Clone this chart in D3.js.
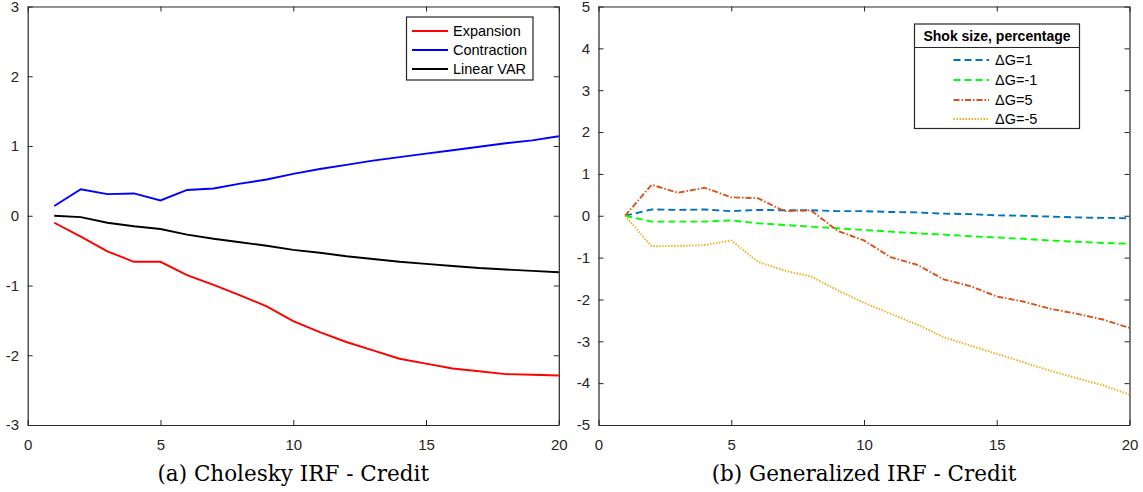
<!DOCTYPE html>
<html>
<head>
<meta charset="utf-8">
<script src="https://cdn.jsdelivr.net/npm/d3@7"></script>
<style>
  body { margin: 0; background: #fff; }
  svg { display: block; }
</style>
</head>
<body>
<div id="chart"></div>
<script>
// horizons 1..20
var horizons = [1,2,3,4,5,6,7,8,9,10,11,12,13,14,15,16,17,18,19,20];

// (a) Cholesky IRF - Credit
var expansion   = [-0.10,-0.30,-0.51,-0.66,-0.66,-0.85,-0.99,-1.14,-1.30,-1.51,-1.67,-1.81,-1.93,-2.05,-2.12,-2.19,-2.23,-2.27,-2.28,-2.29];
var contraction = [0.14,0.38,0.31,0.32,0.22,0.37,0.39,0.46,0.52,0.60,0.67,0.73,0.79,0.84,0.89,0.94,0.99,1.04,1.08,1.14];
var linearVar   = [0.00,-0.02,-0.10,-0.15,-0.19,-0.27,-0.33,-0.38,-0.43,-0.49,-0.53,-0.58,-0.62,-0.66,-0.69,-0.72,-0.75,-0.77,-0.79,-0.81];

// (b) Generalized IRF - Credit
var dG1  = [0,0.15,0.14,0.15,0.11,0.14,0.13,0.13,0.11,0.11,0.09,0.08,0.05,0.04,0.01,0.00,-0.02,-0.04,-0.05,-0.06];
var dGm1 = [0,-0.14,-0.14,-0.14,-0.11,-0.18,-0.22,-0.26,-0.30,-0.34,-0.38,-0.42,-0.45,-0.49,-0.52,-0.55,-0.59,-0.62,-0.65,-0.67];
var dG5  = [0,0.74,0.55,0.67,0.44,0.42,0.11,0.13,-0.36,-0.59,-0.99,-1.17,-1.52,-1.68,-1.93,-2.05,-2.22,-2.34,-2.48,-2.68];
var dGm5 = [0,-0.73,-0.72,-0.70,-0.59,-1.10,-1.31,-1.45,-1.78,-2.08,-2.34,-2.60,-2.90,-3.10,-3.30,-3.50,-3.70,-3.88,-4.05,-4.27];

var xTicks = [0,5,10,15,20];
var yTicksA = [-3,-2,-1,0,1,2,3];
var yTicksB = [-5,-4,-3,-2,-1,0,1,2,3,4,5];

var sans = '"Liberation Sans", Arial, sans-serif';

var svg = d3.select('#chart').append('svg')
    .attr('width', 1143)
    .attr('height', 492);

panel({
  left: 27.7, right: 558.8, top: 6.5, bottom: 425,
  yDomain: [-3, 3], yTicks: yTicksA,
  caption: '(a) Cholesky IRF - Credit',
  series: [
    {name: 'Expansion',   values: expansion,   color: '#ff0000', dash: null},
    {name: 'Contraction', values: contraction, color: '#0000ff', dash: null},
    {name: 'Linear VAR',  values: linearVar,   color: '#000000', dash: null}
  ],
  legend: {x0: 406.5, x1: 533, y0: 17, y1: 80, lineX0: 412, lineX1: 448, textX: 453, rows: [31, 50, 69]}
});

panel({
  left: 598.5, right: 1129.5, top: 6.5, bottom: 425,
  yDomain: [-5, 5], yTicks: yTicksB,
  caption: '(b) Generalized IRF - Credit',
  series: [
    {name: '\u0394G=1',  values: dG1,  color: '#0072bd', dash: '7,4'},
    {name: '\u0394G=-1', values: dGm1, color: '#00ff00', dash: '7,4'},
    {name: '\u0394G=5',  values: dG5,  color: '#d95319', dash: '6,2,1.5,2'},
    {name: '\u0394G=-5', values: dGm5, color: '#edb120', dash: '1.5,1.5'}
  ],
  legend: {x0: 914.5, x1: 1079.5, y0: 24, y1: 128.5, sep: 47.5,
           title: 'Shok size, percentage', titleY: 41,
           lineX0: 953.5, lineX1: 989, textX: 995, rows: [60, 80, 100, 119]}
});

function panel(cfg){
  var x = d3.scaleLinear().domain([0, 20]).range([cfg.left, cfg.right]);
  var y = d3.scaleLinear().domain(cfg.yDomain).range([cfg.bottom, cfg.top]);
  var g = svg.append('g');

  // ticks inside, on all four sides; plain hyphen for negatives like MATLAB
  var fmt = function(d) { return String(d); };
  var bottomAxis = d3.axisBottom(x).tickValues(xTicks).tickFormat(fmt).tickSizeInner(-5).tickSizeOuter(0).tickPadding(14.5);
  var topAxis = d3.axisTop(x).tickValues(xTicks).tickSizeInner(-5).tickSizeOuter(0).tickFormat('');
  var leftAxis = d3.axisLeft(y).tickValues(cfg.yTicks).tickFormat(fmt).tickSizeInner(-5).tickSizeOuter(0).tickPadding(8.5);
  var rightAxis = d3.axisRight(y).tickValues(cfg.yTicks).tickSizeInner(-5).tickSizeOuter(0).tickFormat('');

  [[bottomAxis, 'translate(0,' + cfg.bottom + ')'],
   [topAxis, 'translate(0,' + cfg.top + ')'],
   [leftAxis, 'translate(' + cfg.left + ',0)'],
   [rightAxis, 'translate(' + cfg.right + ',0)']].forEach(function(a){
    var ax = g.append('g').attr('transform', a[1]).call(a[0]);
    ax.attr('font-family', sans).attr('font-size', 15);
    ax.select('.domain').attr('stroke', '#262626').attr('stroke-width', 1.2);
    ax.selectAll('.tick line').attr('stroke', '#262626').attr('stroke-width', 1);
    ax.selectAll('.tick text').attr('fill', '#262626');
  });

  var line = d3.line()
      .x(function(d, i) { return x(horizons[i]); })
      .y(function(d) { return y(d); });

  cfg.series.forEach(function(s){
    g.append('path')
        .datum(s.values)
        .attr('d', line)
        .attr('fill', 'none')
        .attr('stroke', s.color)
        .attr('stroke-width', 1.9)
        .attr('stroke-dasharray', s.dash);
  });

  // legend
  var L = cfg.legend;
  var lg = g.append('g')
      .attr('font-family', sans)
      .attr('font-size', 14.5);
  lg.append('rect')
      .attr('x', L.x0).attr('y', L.y0)
      .attr('width', L.x1 - L.x0).attr('height', L.y1 - L.y0)
      .attr('fill', '#fff').attr('stroke', '#262626').attr('stroke-width', 1.2);
  if (L.title) {
    lg.append('line')
        .attr('x1', L.x0).attr('x2', L.x1)
        .attr('y1', L.sep).attr('y2', L.sep)
        .attr('stroke', '#262626').attr('stroke-width', 1.2);
    lg.append('text')
        .attr('x', (L.x0 + L.x1) / 2).attr('y', L.titleY)
        .attr('text-anchor', 'middle')
        .attr('font-weight', 'bold')
        .attr('font-size', 14)
        .text(L.title);
  }
  cfg.series.forEach(function(s, i){
    lg.append('line')
        .attr('x1', L.lineX0).attr('x2', L.lineX1)
        .attr('y1', L.rows[i]).attr('y2', L.rows[i])
        .attr('stroke', s.color)
        .attr('stroke-width', 1.9)
        .attr('stroke-dasharray', s.dash);
    lg.append('text')
        .attr('x', L.textX).attr('y', L.rows[i])
        .attr('dy', '0.35em')
        .text(s.name);
  });

  g.append('text')
      .attr('x', (cfg.left + cfg.right) / 2)
      .attr('y', 481)
      .attr('text-anchor', 'middle')
      .attr('font-family', '"DejaVu Serif", serif')
      .attr('font-size', 21.5)
      .text(cfg.caption);
}
</script>
</body>
</html>
